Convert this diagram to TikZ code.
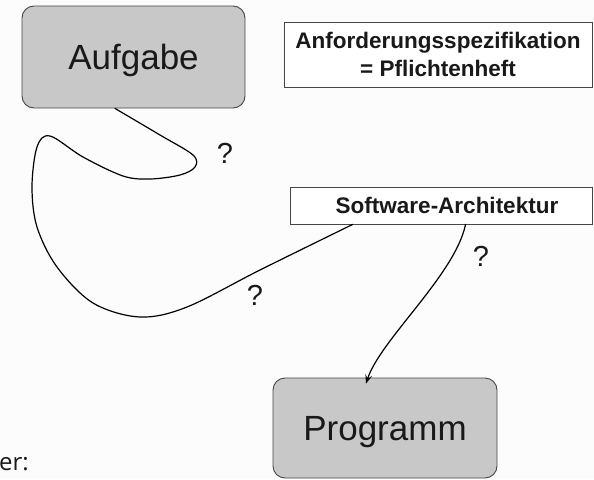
\documentclass[tikz,border=0pt]{standalone}
\usepackage{fontspec}
\setmainfont{Liberation Sans}
\newfontfamily\notefont{Open Sans}
\usetikzlibrary{arrows.meta,calc}
\definecolor{boxgray}{RGB}{200,200,200}
\definecolor{edgegray}{RGB}{70,70,70}
\definecolor{ink}{RGB}{25,25,25}
\definecolor{paper}{RGB}{252,252,252}
\begin{document}
\begin{tikzpicture}[x=1pt,y=-1pt,
  bigbox/.style={draw=edgegray,line width=0.9pt,fill=boxgray,rounded corners=12pt,
    inner sep=0pt,text=ink,font=\fontsize{35}{40}\selectfont,text depth=0pt},
  labelbox/.style={draw=edgegray,line width=0.9pt,fill=white,inner sep=0pt,text=ink,
    font=\bfseries\fontsize{22.5}{28}\selectfont,align=center},
  qmark/.style={text=ink,font=\fontsize{29}{32}\selectfont,inner sep=0pt},
  path/.style={line width=1.2pt,black,line cap=round,line join=round}]
\useasboundingbox[fill=paper] (0,0) rectangle (594,479);

% main boxes
\node[bigbox,minimum width=223pt,minimum height=102pt] (aufgabe) at (133.5,57) {Aufgabe};
\node[bigbox,minimum width=224pt,minimum height=100pt] (programm) at (385,428) {Programm};

% labelled rectangles
\node[labelbox,minimum width=308pt,minimum height=65pt] (spec) at (438,54.5)
  {Anforderungsspezifikation\\= Pflichtenheft};
\node[labelbox,minimum width=302pt,minimum height=37pt] (arch) at (441,205.5)
  {\hspace{12pt}Software-Architektur};

% the winding way from the task to the architecture
\coordinate (wstart) at ($(aufgabe.south)+(-18.5,0)$);
\coordinate (wend) at ($(arch.south west)+(63,0)$);
\draw[path] plot[smooth,tension=0.55] coordinates {
  (wstart) (160,135) (193,155) (195,167) (180,175) (150,179) (123,176)
  (83,157) (50,136) (37,147) (32,187) (37,227) (57,267) (93,303)
  (140,317) (187,307) (260,270) (wend)};

% the direct step from the architecture to the program
\coordinate (astart) at ($(arch.south west)+(176,0)$);
\coordinate (aend) at ($(programm.north)+(-19,6)$);
\draw[path,-{Stealth[length=9pt,width=7pt,inset=4pt]}]
  (astart) .. controls (455,275) and (380,340) .. (aend);

% question marks
\node[qmark] (q1) at (225,153) {?};
\node[qmark] (q2) at (255,295) {?};
\node[qmark] (q3) at (481,256) {?};

% note at the lower left
\node[anchor=base west,inner sep=0pt,text=ink,font=\notefont\fontsize{24}{28}\selectfont] (note) at (-1,470) {er:};
\end{tikzpicture}
\end{document}
